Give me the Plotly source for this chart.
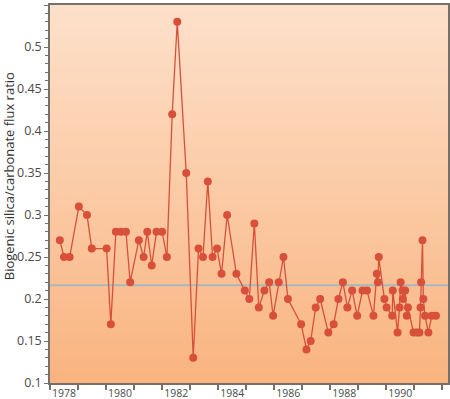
import plotly.graph_objects as go

years = [1978.35, 1978.50, 1978.70, 1979.03, 1979.32, 1979.49, 1980.02, 1980.17, 1980.35, 1980.53,
         1980.71, 1980.86, 1981.17, 1981.34, 1981.47, 1981.63, 1981.80, 1982.00, 1982.17, 1982.36,
         1982.54, 1982.86, 1983.11, 1983.30, 1983.46, 1983.63, 1983.80, 1983.96, 1984.12, 1984.32,
         1984.65, 1984.95, 1985.11, 1985.29, 1985.45, 1985.65, 1985.82, 1985.96, 1986.16, 1986.33,
         1986.49, 1986.96, 1987.15, 1987.30, 1987.48, 1987.64, 1987.93, 1988.12, 1988.29, 1988.45,
         1988.61, 1988.78, 1988.96, 1989.15, 1989.31, 1989.54, 1989.66, 1989.70, 1989.73, 1989.93,
         1990.01, 1990.21, 1990.23, 1990.40, 1990.47, 1990.51, 1990.58, 1990.59, 1990.67, 1990.73,
         1990.77, 1990.97, 1991.09, 1991.18, 1991.22, 1991.24, 1991.29, 1991.32, 1991.38, 1991.50,
         1991.62, 1991.77]
ratio = [0.27, 0.25, 0.25, 0.31, 0.30, 0.26, 0.26, 0.17, 0.28, 0.28,
         0.28, 0.22, 0.27, 0.25, 0.28, 0.24, 0.28, 0.28, 0.25, 0.42,
         0.53, 0.35, 0.13, 0.26, 0.25, 0.34, 0.25, 0.26, 0.23, 0.30,
         0.23, 0.21, 0.20, 0.29, 0.19, 0.21, 0.22, 0.18, 0.22, 0.25,
         0.20, 0.17, 0.14, 0.15, 0.19, 0.20, 0.16, 0.17, 0.20, 0.22,
         0.19, 0.21, 0.18, 0.21, 0.21, 0.18, 0.23, 0.22, 0.25, 0.20,
         0.19, 0.18, 0.21, 0.16, 0.19, 0.22, 0.21, 0.20, 0.21, 0.18,
         0.19, 0.16, 0.16, 0.16, 0.19, 0.22, 0.27, 0.20, 0.18, 0.16,
         0.18, 0.18]
mean_ratio = 0.2165

label_years = [1978, 1980, 1982, 1984, 1986, 1988, 1990]
label_pos = [y + 0.5 for y in label_years]
label_text = [str(y) for y in label_years]
year_bounds = list(range(1978, 1993))
y_title = "Biogenic silica/carbonate flux ratio"

FONT = "Open Sans"
AXIS_COLOR = "#77706a"
MARK = "#d8503a"
TXT = "#4a4a4a"

fig = go.Figure()

# vertical gradient background
top = (253, 224, 202)
bot = (249, 180, 128)
n = 60
for i in range(n):
    t = i / (n - 1)
    c = tuple(round(top[k] + (bot[k] - top[k]) * t) for k in range(3))
    fig.add_shape(type="rect", xref="x domain", yref="y domain",
                  x0=0, x1=1, y0=1 - i / n, y1=1 - (i + 1) / n - 0.002,
                  fillcolor="rgb(%d,%d,%d)" % c, line_width=0, layer="below")

fig.add_shape(type="line", xref="x domain", yref="y", x0=0, x1=1,
              y0=mean_ratio, y1=mean_ratio, line=dict(color="#a6b9bd", width=2),
              layer="below")

fig.add_trace(go.Scatter(x=years, y=ratio, mode="lines+markers",
                         line=dict(color=MARK, width=1.3),
                         marker=dict(color=MARK, size=8),
                         showlegend=False, hoverinfo="skip"))

fig.add_annotation(text=y_title, xref="x domain", yref="y domain", x=0, y=0.547,
                   xshift=-41, xanchor="center", yanchor="middle", textangle=-90,
                   showarrow=False, font=dict(size=13, family=FONT, color="#333333"))

fig.update_layout(
    width=450, height=399,
    margin=dict(l=50, r=2, t=5, b=16),
    paper_bgcolor="white", plot_bgcolor="#fcd0ac",
    font=dict(family=FONT, color=TXT),
)
fig.update_xaxes(range=[1978, 1992.2], tickvals=label_pos, ticktext=label_text,
                 ticks="", ticklen=0, automargin=False,
                 tickfont=dict(size=10.5, family=FONT, color=TXT),
                 showgrid=False, zeroline=False,
                 showline=True, linecolor=AXIS_COLOR, linewidth=1.5, mirror=True,
                 minor=dict(tickvals=year_bounds, ticks="outside", ticklen=5,
                            tickcolor=AXIS_COLOR, tickwidth=1.5, showgrid=False))
fig.update_yaxes(range=[0.1, 0.55], dtick=0.05, tick0=0.1, ticks="outside", ticklen=4,
                 tickcolor=AXIS_COLOR, tickwidth=1, automargin=False,
                 tickfont=dict(size=12.5, family=FONT, color=TXT),
                 showgrid=False, zeroline=False,
                 showline=True, linecolor=AXIS_COLOR, linewidth=1.5, mirror=True,
                 minor=dict(dtick=0.01, ticks="outside", ticklen=3,
                            tickcolor=AXIS_COLOR, tickwidth=1, showgrid=False))

fig.write_html("out.html", config={"displayModeBar": False},
               post_script="document.body.style.margin='0';document.body.style.overflow='hidden';")
